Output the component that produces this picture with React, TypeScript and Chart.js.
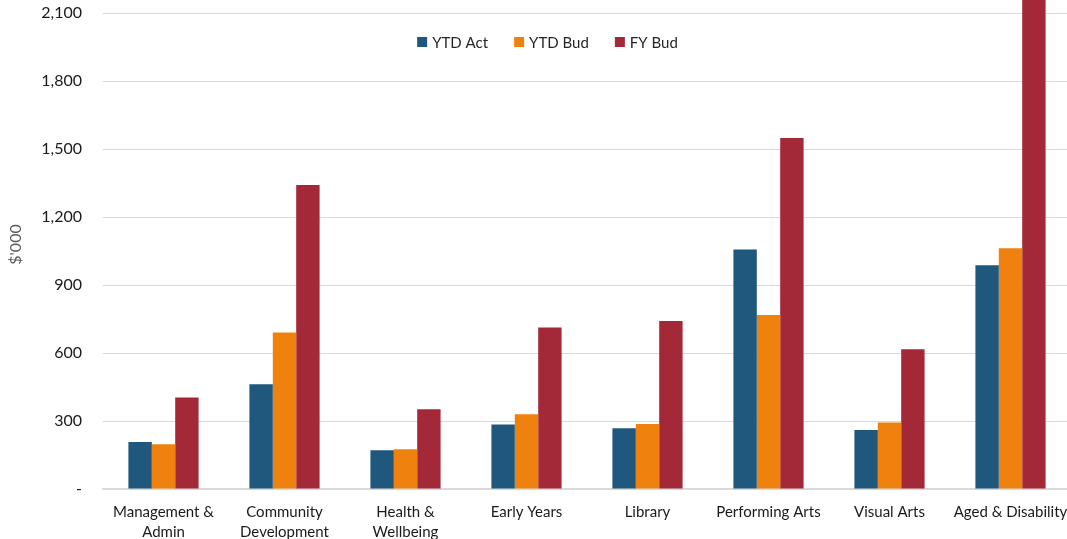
import React, { useEffect, useRef } from "react";
import { Chart, registerables } from "chart.js";

Chart.register(...registerables);

const categories: (string | string[])[] = [
  ["Management &", "Admin"],
  ["Community", "Development"],
  ["Health &", "Wellbeing"],
  "Early Years",
  "Library",
  "Performing Arts",
  "Visual Arts",
  "Aged & Disability",
];

const ytdAct = [207, 462, 171, 285, 268, 1057, 260, 987];
const ytdBud = [197, 690, 175, 330, 287, 768, 293, 1062];
const fyBud = [404, 1341, 352, 713, 741, 1549, 616, 2400];

const yTickValues = [0, 300, 600, 900, 1200, 1500, 1800, 2100];

const seriesNames = ["YTD Act", "YTD Bud", "FY Bud"];
const seriesColors = ["#1f587c", "#ef810e", "#a32838"];

const FONT = "Lato, 'Open Sans', sans-serif";

// Legend drawn inside the plot area, above the bars
const insideLegend = {
  id: "insideLegend",
  afterDraw(chart: any) {
    const ctx = chart.ctx;
    ctx.save();
    ctx.font = `15px ${FONT}`;
    ctx.textBaseline = "middle";
    const box = 10;
    const gapBoxText = 5;
    const gapItems = 26;
    const widths = seriesNames.map((n) => box + gapBoxText + ctx.measureText(n).width);
    const total = widths.reduce((a, b) => a + b, 0) + gapItems * (widths.length - 1);
    let x = 547.5 - total / 2;
    const y = 42;
    seriesNames.forEach((n, i) => {
      ctx.fillStyle = seriesColors[i];
      ctx.fillRect(x, y - box / 2, box, box);
      ctx.fillStyle = "#262626";
      ctx.textAlign = "left";
      ctx.fillText(n, x + box + gapBoxText, y + 1);
      x += widths[i] + gapItems;
    });
    ctx.restore();
  },
};

export default function App() {
  const ref = useRef<HTMLCanvasElement>(null);

  useEffect(() => {
    if (!ref.current) return;
    const chart = new Chart(ref.current, {
      type: "bar",
      data: {
        labels: categories,
        datasets: [ytdAct, ytdBud, fyBud].map((d, i) => ({
          label: seriesNames[i],
          data: d,
          backgroundColor: seriesColors[i],
          borderWidth: 0,
          barPercentage: 1,
          categoryPercentage: 0.58,
        })),
      },
      options: {
        responsive: false,
        animation: false,
        layout: { padding: 0 },
        plugins: {
          legend: { display: false },
          tooltip: { enabled: false },
        },
        scales: {
          x: {
            grid: { display: false },
            border: { display: true, color: "#d9d9d9", width: 1.5 },
            ticks: {
              color: "#1a1a1a",
              font: { family: FONT, size: 15, lineHeight: 1.33 },
              padding: 5,
              maxRotation: 0,
              autoSkip: false,
            },
            afterFit: (s: any) => {
              s.height = 50;
              s.paddingLeft = 0;
              s.paddingRight = 0;
            },
          },
          y: {
            min: 0,
            max: 2100 + (13 * 300) / 68,
            grid: { color: "#d9d9d9", lineWidth: 1, drawTicks: false },
            border: { display: false },
            ticks: {
              color: "#1a1a1a",
              font: { family: FONT, size: 16 },
              padding: 21,
              callback: (v: any) => (Number(v) === 0 ? "-" : Number(v).toLocaleString("en-US")),
            },
            title: {
              display: true,
              text: "$'000",
              color: "#595959",
              font: { family: FONT, size: 16 },
              padding: { top: 6, bottom: 0 },
            },
            afterBuildTicks: (s: any) => {
              s.ticks = yTickValues.map((value) => ({ value }));
            },
            afterFit: (s: any) => {
              s.width = 103;
              s.paddingTop = 0;
              s.paddingBottom = 0;
            },
          },
        },
      },
      plugins: [insideLegend],
    });
    return () => chart.destroy();
  }, []);

  return (
    <div style={{ position: "fixed", left: 0, top: 0, width: 1067, height: 539, overflow: "hidden", background: "#fff" }}>
      <canvas ref={ref} width={1071} height={539} style={{ display: "block" }} />
    </div>
  );
}
